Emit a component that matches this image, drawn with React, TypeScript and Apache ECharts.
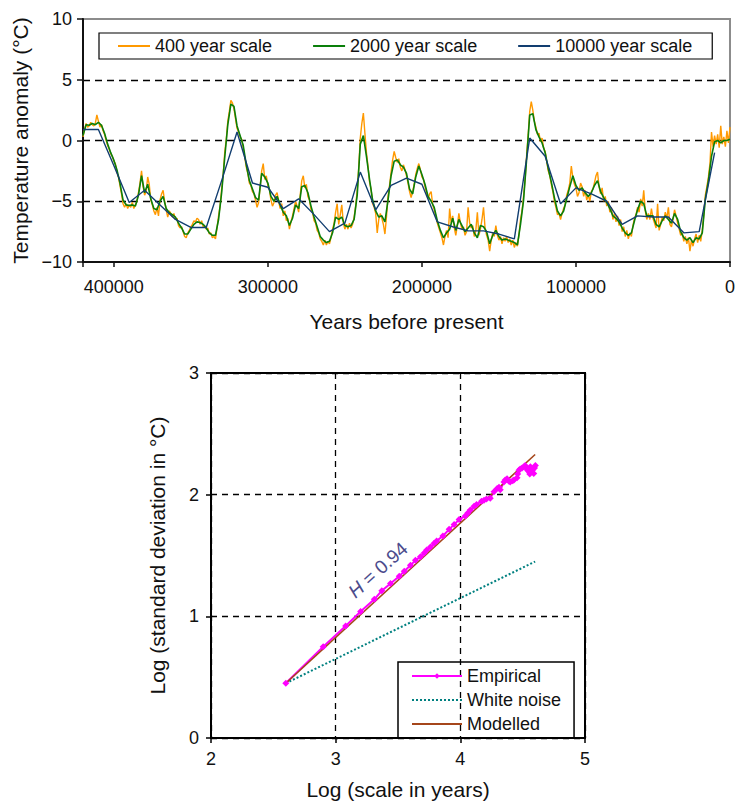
import { useEffect, useRef } from 'react'
import * as echarts from 'echarts'

const FONT = "'Liberation Sans', Arial, Helvetica, sans-serif"

// --- top panel: temperature anomaly, years before present (kyr), 420k -> 0 ---
const orangeStartKyr = 420
const orangeStepKyr = 1
// 400 year scale, one value per 1000 years, from 420 kyr to 0
const orange400 = [
  0.3, 0.9, 1.4, 1.1, 1.2, 1.5, 1.3, 1.2, 1.4, 2.1,
  1.6, 1.1, 1.3, 0.8, 0.5, 0.0, -0.4, -0.7, -1.1, -1.3,
  -1.7, -1.9, -2.6, -3.0, -3.7, -4.4, -5.2, -5.5, -5.2, -5.6,
  -5.3, -5.5, -5.1, -5.6, -5.3, -5.0, -4.3, -3.5, -2.5, -3.8,
  -4.5, -4.2, -3.0, -3.6, -4.9, -5.3, -5.8, -6.1, -5.5, -6.2,
  -4.9, -4.4, -4.1, -5.0, -5.7, -6.3, -5.8, -6.0, -6.3, -6.0,
  -6.5, -6.4, -7.0, -7.2, -7.1, -7.5, -7.9, -8.0, -7.6, -7.4,
  -7.1, -6.9, -6.6, -6.7, -6.4, -6.5, -6.9, -6.6, -7.1, -7.0,
  -7.3, -7.2, -7.7, -7.6, -8.0, -7.9, -8.1, -7.2, -6.2, -5.4,
  -4.0, -2.8, -1.0, 0.1, 1.6, 2.4, 3.3, 3.1, 2.6, 1.8,
  1.0, 0.7, 0.3, 0.1, -0.6, -1.4, -2.2, -2.7, -3.5, -3.7,
  -4.2, -4.4, -4.9, -5.5, -5.1, -3.8, -2.5, -1.9, -3.2, -2.9,
  -3.7, -4.0, -4.9, -5.4, -5.1, -4.5, -4.3, -5.0, -5.6, -5.2,
  -6.2, -5.8, -6.6, -6.4, -7.3, -6.7, -6.2, -5.6, -5.0, -5.4,
  -5.9, -4.5, -3.3, -2.9, -3.9, -3.6, -4.6, -4.9, -5.7, -5.9,
  -6.6, -6.8, -7.4, -7.6, -8.1, -8.3, -8.6, -8.2, -8.6, -8.3,
  -8.5, -8.0, -7.3, -6.8, -5.9, -5.2, -6.9, -6.1, -5.3, -6.8,
  -7.3, -6.9, -7.3, -6.8, -7.2, -6.9, -6.3, -5.4, -4.1, -2.2,
  0.2, 1.4, 2.25, 0.6, -1.0, -2.1, -3.4, -4.0, -5.2, -5.5,
  -6.0, -7.6, -6.5, -6.0, -6.4, -6.9, -7.7, -6.3, -4.6, -3.7,
  -2.6, -1.6, -0.9, -1.4, -1.8, -1.5, -2.2, -2.5, -2.0, -2.4,
  -2.9, -3.5, -4.2, -4.7, -4.2, -3.6, -2.8, -2.3, -1.9, -2.4,
  -3.0, -3.2, -3.8, -4.3, -4.8, -4.4, -4.2, -5.3, -5.7, -6.2,
  -6.8, -7.2, -7.6, -8.0, -8.6, -7.9, -7.4, -8.0, -5.6, -6.8,
  -6.2, -7.2, -7.8, -7.0, -6.0, -6.8, -7.3, -7.1, -7.8, -7.5,
  -5.5, -6.8, -7.2, -7.0, -7.9, -7.4, -5.9, -7.8, -7.3, -6.5,
  -5.5, -7.2, -7.8, -8.2, -9.1, -8.2, -7.6, -7.9, -7.0, -7.8,
  -8.2, -7.9, -8.5, -8.0, -8.3, -7.9, -8.4, -8.1, -8.6, -8.2,
  -8.8, -8.4, -8.7, -7.8, -6.5, -5.8, -4.6, -3.2, -1.2, 0.5,
  2.4, 3.2, 2.5, 1.6, 1.1, 0.5, 0.6, -0.1, 0.2, -0.6,
  -0.9, -1.7, -2.5, -2.9, -3.6, -4.2, -5.0, -5.5, -6.1, -6.0,
  -6.5, -6.0, -5.6, -5.3, -4.5, -4.1, -3.5, -2.1, -3.1, -3.6,
  -3.9, -4.6, -4.3, -3.5, -3.8, -4.6, -4.1, -4.9, -4.5, -5.0,
  -4.2, -4.0, -3.5, -2.9, -2.6, -3.8, -4.4, -3.9, -5.0, -4.6,
  -5.4, -5.0, -5.9, -5.5, -6.5, -6.0, -6.7, -6.2, -7.0, -6.5,
  -7.5, -7.1, -7.9, -7.4, -8.1, -7.6, -7.9, -7.0, -6.4, -6.1,
  -5.5, -5.9, -4.8, -5.4, -4.1, -5.8, -6.5, -6.0, -6.5, -5.6,
  -6.4, -6.8, -7.2, -5.2, -7.4, -6.9, -6.3, -6.6, -5.9, -6.4,
  -5.5, -6.9, -7.1, -6.5, -5.7, -6.2, -6.8, -7.3, -7.8, -7.6,
  -8.3, -7.9, -8.5, -8.0, -9.1, -8.2, -8.7, -8.1, -7.7, -8.4,
  -7.8, -8.3, -7.4, -6.1, -4.5, -3.8, -3.0, -1.9, 0.7, -0.5,
  0.4, -0.3, 0.5, -0.6, 1.2, -0.3, 0.3, -0.5, 0.8, -0.2,
  1.1,
]

const greenStartKyr = 420
const greenStepKyr = 2
// 2000 year scale, one value per 2000 years
const green2000 = [
  0.4, 1.3, 1.25, 1.4, 1.3, 1.5, 1.25, 0.6, -0.3, -1.0,
  -1.6, -2.4, -3.5, -4.9, -5.3, -5.35, -5.3, -5.4, -4.5, -2.9,
  -4.3, -3.6, -4.8, -5.6, -5.7, -5.0, -4.6, -5.6, -5.95, -6.1,
  -6.3, -6.8, -7.2, -7.7, -7.7, -7.3, -6.9, -6.7, -6.75, -6.9,
  -7.2, -7.6, -7.8, -7.8, -6.5, -4.3, -1.4, 1.3, 3.0, 2.8,
  1.2, 0.4, -0.4, -2.0, -3.3, -4.0, -4.7, -4.9, -2.7, -3.0,
  -3.5, -4.6, -5.0, -4.6, -5.3, -5.9, -6.2, -7.0, -6.4, -5.3,
  -5.6, -3.8, -3.7, -4.3, -5.4, -6.3, -7.1, -7.9, -8.2, -8.4,
  -8.3, -7.6, -6.3, -6.5, -6.3, -7.0, -7.1, -7.0, -6.5, -4.5,
  -0.3, 0.4, -1.3, -3.2, -4.9, -5.8, -6.3, -6.2, -6.7, -4.9,
  -2.9, -1.7, -1.6, -2.0, -2.2, -2.7, -4.0, -4.4, -3.0, -2.1,
  -2.8, -3.6, -4.6, -5.0, -5.5, -6.6, -7.4, -8.0, -7.6, -7.3,
  -6.4, -7.4, -6.5, -7.0, -7.5, -7.2, -6.9, -7.6, -8.0, -7.0,
  -7.1, -7.5, -8.5, -7.8, -7.4, -7.9, -8.2, -8.1, -8.2, -8.3,
  -8.4, -8.6, -6.9, -4.9, -1.5, 2.1, 2.2, 0.9, 0.3, -0.2,
  -1.0, -2.3, -3.4, -4.7, -5.8, -6.2, -5.8, -4.8, -3.8, -2.9,
  -3.7, -4.1, -3.9, -4.3, -4.6, -4.3, -3.7, -3.3, -4.2, -4.7,
  -5.1, -5.6, -6.2, -6.4, -6.7, -7.2, -7.6, -7.8, -7.6, -6.6,
  -5.7, -5.0, -5.2, -6.2, -6.2, -6.2, -6.9, -7.1, -6.6, -6.2,
  -6.5, -6.8, -6.0, -6.5, -7.5, -8.0, -8.2, -8.0, -8.4, -8.0,
  -8.1, -7.6, -4.8, -3.3, -1.3, -0.1, 0.0, -0.2, 0.0, 0.0,
  0.1,
]

const blueStartKyr = 420
const blueStepKyr = 10
// 10000 year scale, one value per 10000 years, 420 kyr to 10 kyr
const blue10000 = [
  0.9, 0.9, -2.05, -5.1, -4.1, -5.3, -6.5, -7.16, -7.16, -3.3,
  0.7, -3.5, -3.85, -5.6, -4.8, -6.1, -7.5, -6.8, -2.6, -5.7,
  -3.7, -3.1, -3.6, -6.7, -7.1, -7.44, -7.44, -7.7, -8.1, 0.2,
  -1.3, -5.2, -3.9, -4.4, -5.0, -6.9, -6.2, -6.3, -6.3, -7.6,
  -7.5, -1.0,
]

// --- bottom panel: log std deviation vs log scale ---
const empiricalX = [
  2.6, 2.9, 3.08, 3.2, 3.31, 3.37, 3.44, 3.51, 3.55, 3.6,
  3.64, 3.68, 3.71, 3.73, 3.76, 3.79, 3.81, 3.86, 3.91, 3.95,
  3.99, 4.04, 4.06, 4.08, 4.11, 4.13, 4.17, 4.19, 4.21, 4.24,
  4.27, 4.295, 4.31, 4.32, 4.35, 4.36, 4.375, 4.39, 4.4, 4.42,
  4.43, 4.455, 4.46, 4.47, 4.48, 4.495, 4.51, 4.52, 4.53, 4.54,
  4.55, 4.557, 4.562, 4.57, 4.576, 4.589, 4.595, 4.602,
]
const empiricalY = [
  0.45, 0.75, 0.92, 1.04, 1.14, 1.21, 1.27, 1.33, 1.37, 1.42,
  1.46, 1.49, 1.52, 1.545, 1.57, 1.6, 1.62, 1.66, 1.715, 1.755,
  1.795, 1.825, 1.85, 1.875, 1.905, 1.92, 1.945, 1.955, 1.965, 1.97,
  2.025, 2.05, 2.06, 2.04, 2.105, 2.12, 2.13, 2.11, 2.105, 2.115,
  2.12, 2.14, 2.17, 2.2, 2.21, 2.22, 2.23, 2.24, 2.22, 2.2,
  2.19, 2.17, 2.23, 2.21, 2.2, 2.175, 2.22, 2.24,
]
const whiteNoiseX = [2.6, 4.6]
const whiteNoiseY = [0.45, 1.45]
const modelledX = [2.6, 4.6]
const modelledY = [0.45, 2.33]

const topLegend = ['400 year scale', '2000 year scale', '10000 year scale']
const bottomLegend = ['Empirical', 'White noise', 'Modelled']
const hurstLabel = '{i|H} = 0.94'

const minus = (v: number) => (v < 0 ? '\u2212' + Math.abs(v) : String(v))

// legend entries drawn as plain lines (hide the default marker)
const lineOnly = (name: string) => ({ name, itemStyle: { opacity: 0 } })

export default function App() {
  const chartRef = useRef<HTMLDivElement>(null)

  useEffect(() => {
    if (!chartRef.current) return
    const chart = echarts.init(chartRef.current, null, { renderer: 'svg' })

    const orangeData = orange400.map((v, i) => [(orangeStartKyr - i * orangeStepKyr) * 1000, v])
    const greenData = green2000.map((v, i) => [(greenStartKyr - i * greenStepKyr) * 1000, v])
    const blueData = blue10000.map((v, i) => [(blueStartKyr - i * blueStepKyr) * 1000, v])
    const empiricalData = empiricalX.map((x, i) => [x, empiricalY[i]])
    const whiteData = whiteNoiseX.map((x, i) => [x, whiteNoiseY[i]])
    const modelData = modelledX.map((x, i) => [x, modelledY[i]])

    const ink = '#111'
    const dash = { color: '#000', type: [7, 5], width: 1.3 }

    const option: any = {
      animation: false,
      textStyle: { fontFamily: FONT },
      grid: [
        { left: 83, top: 19, width: 647, height: 243, show: true, borderColor: '#8c8c8c', borderWidth: 2 },
        { left: 211, top: 373, width: 374, height: 371, show: true, borderColor: '#000', borderWidth: 2 },
      ],
      legend: [
        {
          data: topLegend.map(lineOnly),
          left: 99,
          top: 33,
          itemWidth: 32,
          itemHeight: 14,
          itemGap: 40,
          padding: [4, 20, 4, 18],
          borderColor: '#000',
          borderWidth: 1.2,
          textStyle: { fontSize: 18, color: ink, fontFamily: FONT },
        },
        {
          data: [{ name: bottomLegend[0] }, lineOnly(bottomLegend[1]), lineOnly(bottomLegend[2])],
          orient: 'vertical',
          left: 398,
          top: 662,
          itemWidth: 50,
          itemHeight: 7,
          itemGap: 6,
          padding: [5, 13, 5, 13],
          borderColor: '#000',
          borderWidth: 1.5,
          textStyle: { fontSize: 18, color: ink, fontFamily: FONT },
        },
      ],
      xAxis: [
        {
          gridIndex: 0,
          type: 'value',
          min: 0,
          max: 420000,
          interval: 100000,
          inverse: true,
          axisLine: { show: true, onZero: false, lineStyle: { color: ink, width: 2 } },
          axisTick: { show: true, length: 5, lineStyle: { color: ink, width: 1.5 } },
          axisLabel: {
            fontSize: 18,
            color: ink,
            margin: 16,
            formatter: (v: number) => (v % 100000 === 0 ? String(v) : ''),
          },
          splitLine: { show: false },
          name: 'Years before present',
          nameLocation: 'middle',
          nameGap: 49,
          nameTextStyle: { fontSize: 21, color: ink },
        },
        {
          gridIndex: 1,
          type: 'value',
          min: 2,
          max: 5,
          interval: 1,
          axisLine: { show: true, onZero: false, lineStyle: { color: '#000', width: 2 } },
          axisTick: { show: true, length: 5, lineStyle: { color: '#000', width: 1.5 } },
          axisLabel: { fontSize: 18, color: ink, margin: 12 },
          splitLine: { show: true, lineStyle: { ...dash, type: [6, 5] } },
          name: 'Log (scale in years)',
          nameLocation: 'middle',
          nameGap: 41,
          nameTextStyle: { fontSize: 21, color: ink },
        },
      ],
      yAxis: [
        {
          gridIndex: 0,
          type: 'value',
          min: -10,
          max: 10,
          interval: 5,
          axisLine: { show: true, onZero: false, lineStyle: { color: ink, width: 2 } },
          axisTick: { show: true, length: 6, lineStyle: { color: ink, width: 1.5 } },
          axisLabel: { fontSize: 18, color: ink, margin: 11, formatter: minus },
          splitLine: { show: true, showMinLine: false, showMaxLine: false, lineStyle: dash },
          name: 'Temperature anomaly (\u00B0C)',
          nameLocation: 'middle',
          nameGap: 51,
          nameTextStyle: { fontSize: 21, color: ink },
        },
        {
          gridIndex: 1,
          type: 'value',
          min: 0,
          max: 3,
          interval: 1,
          axisLine: { show: true, onZero: false, lineStyle: { color: '#000', width: 2 } },
          axisTick: { show: true, length: 5, lineStyle: { color: '#000', width: 1.5 } },
          axisLabel: { fontSize: 18, color: ink, margin: 12 },
          splitLine: { show: true, lineStyle: { ...dash, type: [6, 5] } },
          name: 'Log (standard deviation in \u00B0C)',
          nameLocation: 'middle',
          nameGap: 43,
          nameTextStyle: { fontSize: 21, color: ink },
        },
      ],
      series: [
        {
          name: '400 year scale',
          type: 'line',
          xAxisIndex: 0,
          yAxisIndex: 0,
          data: orangeData,
          symbol: 'none',
          color: '#FF9900',
          lineStyle: { color: '#FF9900', width: 1.4 },
        },
        {
          name: '2000 year scale',
          type: 'line',
          xAxisIndex: 0,
          yAxisIndex: 0,
          data: greenData,
          symbol: 'none',
          color: '#0A7F0A',
          lineStyle: { color: '#0A7F0A', width: 1.6 },
        },
        {
          name: '10000 year scale',
          type: 'line',
          xAxisIndex: 0,
          yAxisIndex: 0,
          data: blueData,
          symbol: 'none',
          color: '#123E70',
          lineStyle: { color: '#123E70', width: 1.4 },
        },
        {
          name: 'Empirical',
          type: 'line',
          xAxisIndex: 1,
          yAxisIndex: 1,
          data: empiricalData,
          symbol: 'diamond',
          symbolSize: 7,
          showSymbol: true,
          color: '#FF00FF',
          itemStyle: { color: '#FF00FF' },
          lineStyle: { color: '#FF00FF', width: 2 },
        },
        {
          name: 'White noise',
          type: 'line',
          xAxisIndex: 1,
          yAxisIndex: 1,
          data: whiteData,
          symbol: 'none',
          color: '#008080',
          lineStyle: { color: '#008080', width: 2, type: 'dotted' },
        },
        {
          name: 'Modelled',
          type: 'line',
          xAxisIndex: 1,
          yAxisIndex: 1,
          data: modelData,
          symbol: 'none',
          color: '#A5461B',
          lineStyle: { color: '#A5461B', width: 1.6 },
        },
      ],
      graphic: [
        {
          type: 'text',
          x: 378,
          y: 570,
          rotation: (42 * Math.PI) / 180,
          style: {
            text: hurstLabel,
            fill: '#4B4B8C',
            fontSize: 19,
            fontFamily: FONT,
            align: 'center',
            verticalAlign: 'middle',
            rich: {
              i: { fontStyle: 'italic', fill: '#4B4B8C', fontSize: 19, fontFamily: FONT },
            },
          },
        },
      ],
    }

    chart.setOption(option)

    return () => {
      chart.dispose()
    }
  }, [])

  return (
    <div
      ref={chartRef}
      style={{ position: 'fixed', left: 0, top: 0, width: 738, height: 801, background: '#fff' }}
    />
  )
}
